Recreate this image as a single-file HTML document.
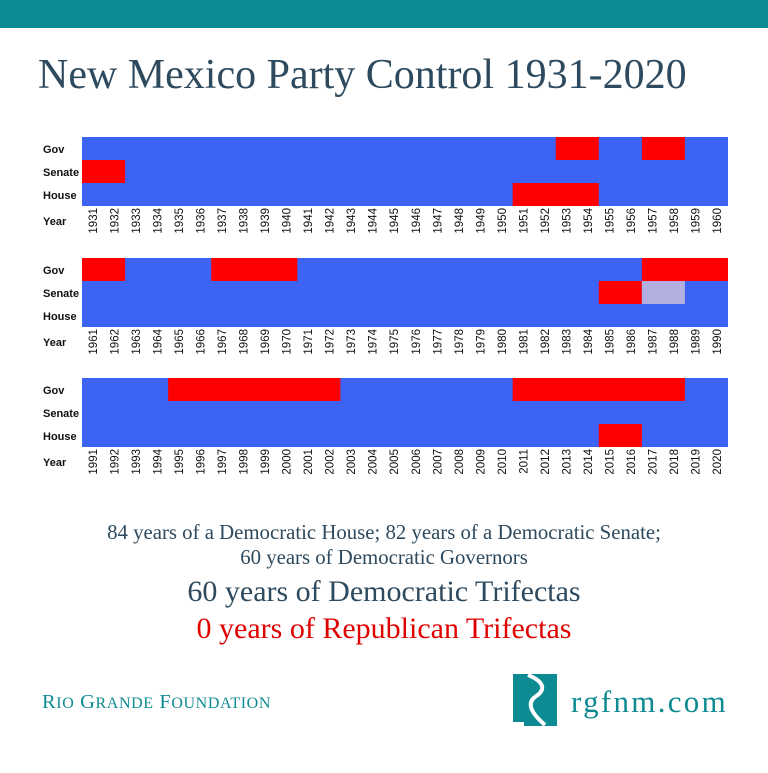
<!DOCTYPE html>
<html><head><meta charset="utf-8"><style>
body{margin:0;width:768px;height:768px;background:#fff;overflow:hidden}
</style></head><body>
<svg width="768" height="768" xmlns="http://www.w3.org/2000/svg" font-family="Liberation Sans, sans-serif">
<rect x="0" y="0" width="768" height="28" fill="#0e8a93"/>
<text x="38" y="88" font-family="Liberation Serif, serif" font-size="42" fill="#2e4a5e">New Mexico Party Control 1931-2020</text>
<g id="g"></g>
<text x="384" y="539" text-anchor="middle" font-family="Liberation Serif, serif" font-size="20.8" fill="#2e4a5e">84 years of a Democratic House; 82 years of a Democratic Senate;</text>
<text x="384" y="564" text-anchor="middle" font-family="Liberation Serif, serif" font-size="20.8" fill="#2e4a5e">60 years of Democratic Governors</text>
<text x="384" y="601" text-anchor="middle" font-family="Liberation Serif, serif" font-size="30" fill="#2e4a5e">60 years of Democratic Trifectas</text>
<text x="384" y="638" text-anchor="middle" font-family="Liberation Serif, serif" font-size="30" fill="#e00000">0 years of Republican Trifectas</text>
<text x="42" y="708" font-family="Liberation Serif, serif" font-size="20.5" fill="#0e8a93" letter-spacing="0.6">R<tspan font-size="16">IO</tspan> G<tspan font-size="16">RANDE</tspan> F<tspan font-size="16">OUNDATION</tspan></text>
<path d="M513 674 L557 674 L557 726 L524 726 L524 722 L513 722 Z" fill="#0e8a93"/>
<path d="M528 675 C545 682 546 690 535 697 C527 703 530 712 545 725" stroke="#fff" stroke-width="4" fill="none"/>
<text x="571" y="712" font-family="Liberation Serif, serif" font-size="31" fill="#0e8a93" letter-spacing="2.3">rgfnm.com</text>
</svg>
<script>
var g=document.getElementById('g'),ns='http://www.w3.org/2000/svg';
var W=646/30,X0=82;
function r(x,y,w,h,c){var e=document.createElementNS(ns,'rect');e.setAttribute('x',x);e.setAttribute('y',y);e.setAttribute('width',w);e.setAttribute('height',h);e.setAttribute('fill',c);g.appendChild(e);}
function t(x,y,s,a,rot,fs){var e=document.createElementNS(ns,'text');e.setAttribute('x',x);e.setAttribute('y',y);e.setAttribute('font-size',fs||'11');e.setAttribute('fill','#111');if(a)e.setAttribute('text-anchor',a);if(rot)e.setAttribute('transform','rotate(-90 '+x+' '+y+')');e.textContent=s;g.appendChild(e);}
var P=[{y:137,s:1931,red:[[0,22,2],[0,26,2],[1,0,2],[2,20,4]],lav:[]},
{y:258,s:1961,red:[[0,0,2],[0,6,4],[0,26,4],[1,24,2]],lav:[[1,26,2]]},
{y:378,s:1991,red:[[0,4,8],[0,20,8],[2,24,2]],lav:[]}];
P.forEach(function(p){
 r(X0,p.y,646,69,'#3d63f5');
 p.red.forEach(function(a){r(X0+a[1]*W,p.y+a[0]*23,a[2]*W,23,'#ff0000');});
 p.lav.forEach(function(a){r(X0+a[1]*W,p.y+a[0]*23,a[2]*W,23,'#b3aee0');});
 var L=['Gov','Senate','House'];
 L.forEach(function(l,i){t(43,p.y+i*23+16,l);});
 t(43,p.y+88,'Year');
 for(var i=0;i<30;i++){t(X0+i*W+W/2+4,p.y+71,String(p.s+i),'end',true,'11.5');}
});
g.querySelectorAll('text').forEach(function(e){if(!e.getAttribute('transform')){e.setAttribute('font-weight','bold');}});
</script>
</body></html>
